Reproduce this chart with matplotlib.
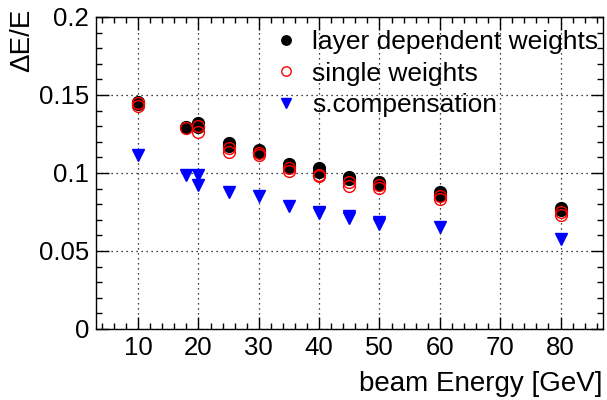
import numpy as np
import matplotlib
matplotlib.use("Agg")
import matplotlib.pyplot as plt
from matplotlib.ticker import MultipleLocator, FuncFormatter

plt.rcParams["font.family"] = ["Liberation Sans", "DejaVu Sans"]

# ---------------------------------------------------------------------------
# data (several runs per beam energy)
# ---------------------------------------------------------------------------
layer_E = [10, 10, 18, 20, 20, 25, 25, 30, 30, 35, 35, 40, 40, 45, 45, 50, 50, 60, 60, 80, 80]
layer_res = [0.1455, 0.1440, 0.1297, 0.1318, 0.1292, 0.1190, 0.1170, 0.1150, 0.1135,
             0.1060, 0.1040, 0.1030, 0.1008, 0.0976, 0.0960, 0.0940, 0.0930, 0.0876,
             0.0862, 0.0774, 0.0760]

single_E = [10, 10, 18, 20, 20, 25, 25, 30, 30, 35, 35, 40, 40, 45, 45, 50, 50, 60, 60, 80, 80]
single_res = [0.1450, 0.1430, 0.1290, 0.1300, 0.1262, 0.1160, 0.1135, 0.1130, 0.1115,
              0.1030, 0.1015, 0.0990, 0.0978, 0.0940, 0.0915, 0.0920, 0.0905, 0.0850,
              0.0836, 0.0750, 0.0728]

comp_E = [10, 18, 20, 20, 25, 30, 35, 40, 40, 45, 45, 50, 50, 60, 80]
comp_res = [0.1115, 0.0990, 0.0988, 0.0925, 0.0880, 0.0850, 0.0790, 0.0752, 0.0742,
            0.0725, 0.0710, 0.0685, 0.0675, 0.0655, 0.0578]

labels = ["layer dependent weights", "single weights", "s.compensation"]

# ---------------------------------------------------------------------------
# figure
# ---------------------------------------------------------------------------
fig = plt.figure(figsize=(6.07, 4.0), dpi=100)
ax = fig.add_axes([0.158, 0.1775, 0.835, 0.78])

h1, = ax.plot(layer_E, layer_res, "o", color="black", markersize=8.5, linestyle="none")
h2, = ax.plot(single_E, single_res, "o", markerfacecolor="none", markeredgecolor="red",
              markeredgewidth=1.0, markersize=8.5, linestyle="none")
h3, = ax.plot(comp_E, comp_res, "v", color="blue", markersize=8.5, linestyle="none")

ax.set_xlim(3, 87)
ax.set_ylim(0, 0.2)

ax.xaxis.set_major_locator(MultipleLocator(10))
ax.xaxis.set_minor_locator(MultipleLocator(2))
ax.yaxis.set_major_locator(MultipleLocator(0.05))
ax.yaxis.set_minor_locator(MultipleLocator(0.01))
ax.yaxis.set_major_formatter(FuncFormatter(lambda v, p: f"{v:g}"))

ax.tick_params(which="both", direction="in", top=True, right=True, labelsize=18.5)
ax.tick_params(which="major", length=9, width=1)
ax.tick_params(which="minor", length=4.5, width=1)
ax.tick_params(axis="x", pad=5)
ax.tick_params(axis="y", pad=5)
for s in ax.spines.values():
    s.set_linewidth(1.0)

ax.grid(True, which="major", color="black", linestyle=(0, (1, 3)), linewidth=0.9)

ax.set_xlabel("beam Energy [GeV]", fontsize=20, loc="right")
ax.xaxis.set_label_coords(1.0, -0.135)
ax.set_ylabel("ΔE/E", fontsize=20, loc="top")
ax.yaxis.set_label_coords(-0.12, 1.028)

ax.legend([h1, h2, h3], labels, loc="upper right", bbox_to_anchor=(1.017, 1.0),
          frameon=False, fontsize=19, handletextpad=0.4, labelspacing=0.28,
          borderaxespad=0.1, markerscale=0.8, handlelength=1.2)

fig.savefig("out.png", dpi=100)
